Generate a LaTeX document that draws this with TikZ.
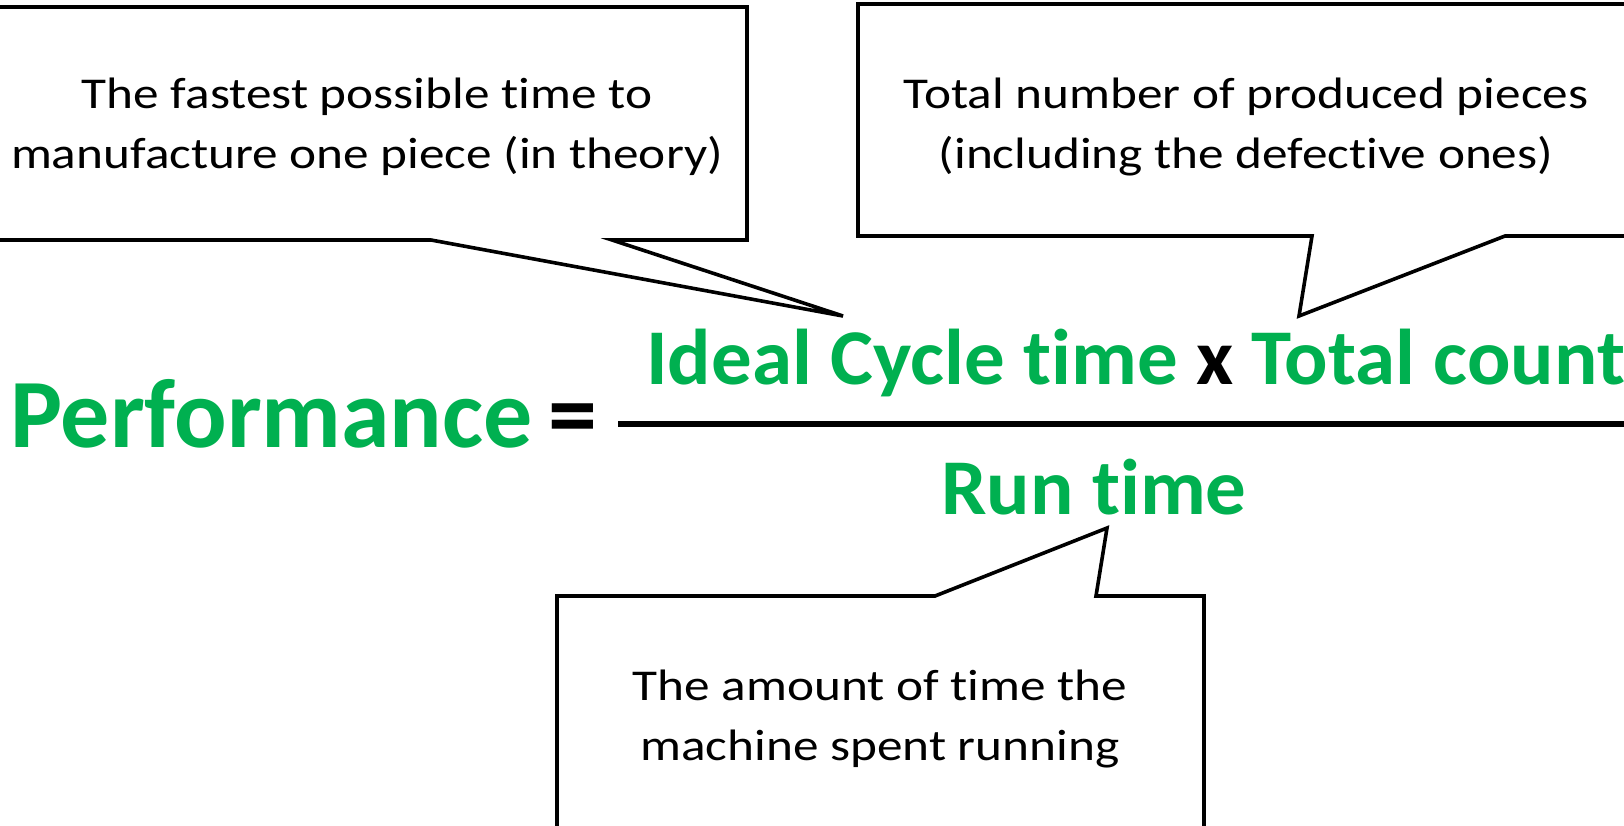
\documentclass[tikz,border=0pt]{standalone}
\usepackage{fontspec}
\setmainfont{Carlito}[Ligatures=NoCommon]
\newfontfamily\notefont{Carlito}[Ligatures=NoCommon, FakeStretch=1.165]
\newfontfamily\termfont{Carlito}[Ligatures=NoCommon, FakeStretch=1.025]
\definecolor{okgreen}{RGB}{0,176,80}
\begin{document}
\begin{tikzpicture}[x=1pt,y=-1pt,
  callout/.style={draw=black, line width=3.6pt, fill=white, line join=miter},
  note/.style={inner sep=0pt, align=center, font=\notefont\fontsize{44}{60}\selectfont},
  big/.style={inner sep=0pt, font=\fontsize{98}{110}\selectfont\bfseries, text=okgreen},
  term/.style={inner sep=0pt, font=\termfont\fontsize{79}{90}\selectfont\bfseries, text=okgreen}]
\useasboundingbox (0,0) rectangle (1624,825);
\clip (0,0) rectangle (1624,825);
\fill[white] (0,0) rectangle (1624,825);

% formula
\node[big, anchor=base west] (perf) at (10,447) {Performance};
\node[inner sep=0pt, anchor=base west, font=\fontsize{98}{110}\selectfont\bfseries] (eq) at (548,447) {=};
\coordinate (barL) at (618,424);
\coordinate (barR) at (1640,424);
\draw[line width=6pt] (barL) -- (barR);
\node[term, anchor=base west] (num) at (646,384) {Ideal Cycle time \textcolor{black}{x} Total count};
\node[term, anchor=base west] (den) at (941,514) {Run time};

% tail tips
\coordinate (tipA) at (843,316);
\coordinate (tipB) at (1299,316);
\coordinate (tipC) at (1107,528);

% callout 1
\draw[callout] (-10,7) -- (747,7) -- (747,240) -- (612,240) -- (tipA) -- (431,240) -- (-10,240) -- cycle;
\node[note, anchor=base] (n1) at (367,168) {The fastest possible time to\\manufacture one piece (in theory)};

% callout 2
\draw[callout] (858,4) -- (1640,4) -- (1640,236) -- (1505,236) -- (tipB) -- (1312,236) -- (858,236) -- cycle;
\node[note, anchor=base] (n2) at (1246,168) {Total number of produced pieces\\(including the defective ones)};

% callout 3
\draw[callout] (557,596) -- (935,596) -- (tipC) -- (1096,596) -- (1204,596) -- (1204,840) -- (557,840) -- cycle;
\node[note, anchor=base] (n3) at (880,760) {The amount of time the\\machine spent running};
\end{tikzpicture}
\end{document}
